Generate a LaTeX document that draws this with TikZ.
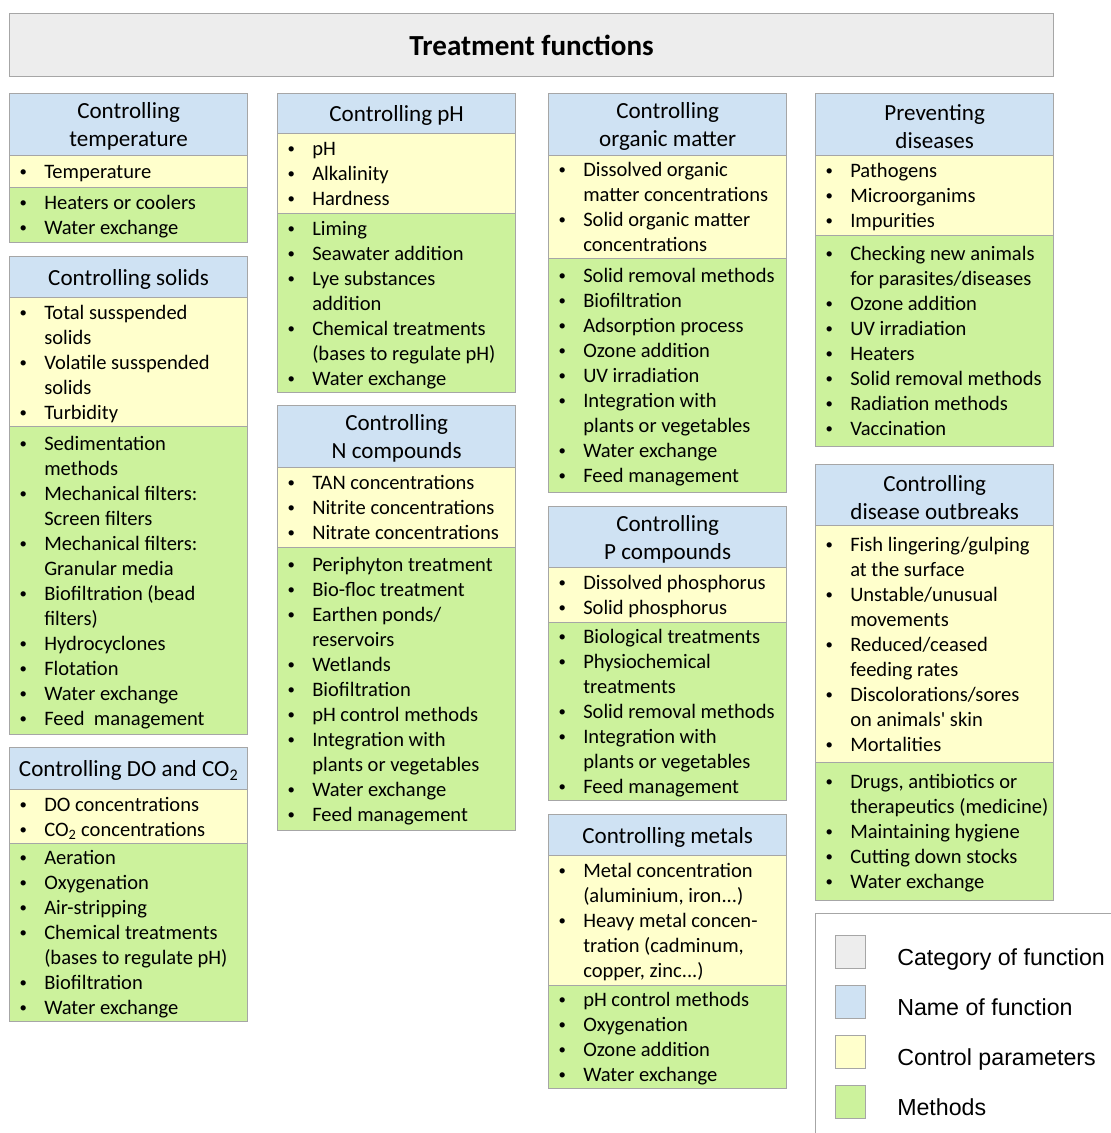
\documentclass[tikz,border=0pt]{standalone}
\usepackage{fontspec}
\setmainfont{Carlito}
\newfontfamily\legendfont{Liberation Sans}
\usetikzlibrary{calc}

\definecolor{edgegray}{HTML}{A6A6A6}
\definecolor{catgray}{HTML}{EDEDED}
\definecolor{headblue}{HTML}{CFE2F3}
\definecolor{paryellow}{HTML}{FFFFCC}
\definecolor{methgreen}{HTML}{CCF29C}

% fonts of the table cells
\newcommand\itemfont{\fontsize{15.4pt}{18.75pt}\selectfont}
\newcommand\headfont{\fontsize{17.3pt}{21pt}\selectfont}
% bullet item and continuation line
\newcommand\bu{\strut\makebox[19.5pt][l]{\hspace{1pt}\raisebox{0.09em}{\scalebox{0.72}{\textbullet}}}}
\newcommand\co{\strut\hspace*{19.5pt}}

\tikzset{
  x=0.75pt, y=-0.75pt,
  cell/.style={draw=edgegray, line width=1pt, anchor=north west,
    minimum width=178.5pt, inner sep=0pt},
  headcell/.style={cell, fill=headblue},
  parcell/.style={cell, fill=paryellow},
  methcell/.style={cell, fill=methgreen},
  headtext/.style={align=center, inner sep=0pt, font=\headfont},
  itemtext/.style={anchor=west, align=left, inner sep=0pt, font=\itemfont},
  legendkey/.style={draw=edgegray, line width=1pt, anchor=north west,
    minimum width=22.5pt, minimum height=24.75pt, inner sep=0pt},
  legendtext/.style={anchor=base west, inner sep=0pt,
    font=\legendfont\fontsize{17.4pt}{20pt}\selectfont},
}

% header cell: name, x, top, bottom, text
\newcommand\hcell[5]{%
  \pgfmathsetmacro\cellh{(#4-#3)*0.75}%
  \node[headcell, minimum height=\cellh pt] (#1) at (#2,#3) {};
  \node[headtext] (#1-text) at ([yshift=-1.5pt]#1.center) {#5};
}
% list cell: name, style, x, top, bottom, lines
\newcommand\lcell[6]{%
  \pgfmathsetmacro\cellh{(#5-#4)*0.75}%
  \node[#2, minimum height=\cellh pt] (#1) at (#3,#4) {};
  \node[itemtext] (#1-text) at ([xshift=6.75pt,yshift=-1.5pt]#1.west) {#6};
}

\begin{document}
\begin{tikzpicture}
\useasboundingbox (0,0) rectangle (1111,1133);

% category
\node[draw=edgegray, line width=1pt, fill=catgray, anchor=north west,
  minimum width=783pt, minimum height=47.25pt, inner sep=0pt,
  font=\bfseries\fontsize{21.8pt}{26pt}\selectfont] (title) at (9,13) {Treatment functions};

% ---------- column 1 ----------
\hcell{temp}{9}{93}{155}{Controlling\\temperature}
\lcell{temp-par}{parcell}{9}{155}{187}{\bu Temperature}
\lcell{temp-met}{methcell}{9}{187}{242}{\bu Heaters or coolers\\\bu Water exchange}

\hcell{solids}{9}{256}{297}{Controlling solids}
\lcell{solids-par}{parcell}{9}{297}{426}{\bu Total susspended\\\co solids\\\bu Volatile susspended\\\co solids\\\bu Turbidity}
\lcell{solids-met}{methcell}{9}{426}{734}{\bu Sedimentation\\\co methods\\\bu Mechanical filters:\\\co Screen filters\\\bu Mechanical filters:\\\co Granular media\\\bu Biofiltration (bead\\\co filters)\\\bu Hydrocyclones\\\bu Flotation\\\bu Water exchange\\\bu Feed\ \ management}

\hcell{oxy}{9}{747}{789}{Controlling DO and CO\textsubscript{2}}
\lcell{oxy-par}{parcell}{9}{789}{843}{\bu DO concentrations\\\bu CO\textsubscript{2} concentrations}
\lcell{oxy-met}{methcell}{9}{843}{1021}{\bu Aeration\\\bu Oxygenation\\\bu Air-stripping\\\bu Chemical treatments\\\co (bases to regulate pH)\\\bu Biofiltration\\\bu Water exchange}

% ---------- column 2 ----------
\hcell{ph}{277}{93}{133}{Controlling pH}
\lcell{ph-par}{parcell}{277}{133}{213}{\bu pH\\\bu Alkalinity\\\bu Hardness}
\lcell{ph-met}{methcell}{277}{213}{392}{\bu Liming\\\bu Seawater addition\\\bu Lye substances\\\co addition\\\bu Chemical treatments\\\co (bases to regulate pH)\\\bu Water exchange}

\hcell{nitro}{277}{405}{467}{Controlling\\N compounds}
\lcell{nitro-par}{parcell}{277}{467}{547}{\bu TAN concentrations\\\bu Nitrite concentrations\\\bu Nitrate concentrations}
\lcell{nitro-met}{methcell}{277}{547}{830}{\bu Periphyton treatment\\\bu Bio-floc treatment\\\bu Earthen ponds/\\\co reservoirs\\\bu Wetlands\\\bu Biofiltration\\\bu pH control methods\\\bu Integration with\\\co plants or vegetables\\\bu Water exchange\\\bu Feed management}

% ---------- column 3 ----------
\hcell{organic}{548}{93}{155}{Controlling\\organic matter}
\lcell{organic-par}{parcell}{548}{155}{258}{\bu Dissolved organic\\\co matter concentrations\\\bu Solid organic matter\\\co concentrations}
\lcell{organic-met}{methcell}{548}{258}{492}{\bu Solid removal methods\\\bu Biofiltration\\\bu Adsorption process\\\bu Ozone addition\\\bu UV irradiation\\\bu Integration with\\\co plants or vegetables\\\bu Water exchange\\\bu Feed management}

\hcell{phos}{548}{506}{567}{Controlling\\P compounds}
\lcell{phos-par}{parcell}{548}{567}{622}{\bu Dissolved phosphorus\\\bu Solid phosphorus}
\lcell{phos-met}{methcell}{548}{622}{800}{\bu Biological treatments\\\bu Physiochemical\\\co treatments\\\bu Solid removal methods\\\bu Integration with\\\co plants or vegetables\\\bu Feed management}

\hcell{metals}{548}{814}{855}{Controlling metals}
\lcell{metals-par}{parcell}{548}{855}{985}{\bu Metal concentration\\\co (aluminium, iron...)\\\bu Heavy metal concen-\\\co tration (cadminum,\\\co copper, zinc...)}
\lcell{metals-met}{methcell}{548}{985}{1088}{\bu pH control methods\\\bu Oxygenation\\\bu Ozone addition\\\bu Water exchange}

% ---------- column 4 ----------
\hcell{prevent}{815}{93}{155}{Preventing\\diseases}
\lcell{prevent-par}{parcell}{815}{155}{235}{\bu Pathogens\\\bu Microorganims\\\bu Impurities}
\lcell{prevent-met}{methcell}{815}{235}{446}{\bu Checking new animals\\\co for parasites/diseases\\\bu Ozone addition\\\bu UV irradiation\\\bu Heaters\\\bu Solid removal methods\\\bu Radiation methods\\\bu Vaccination}

\hcell{outbreak}{815}{464}{525}{Controlling\\disease outbreaks}
\lcell{outbreak-par}{parcell}{815}{525}{762}{\bu Fish lingering/gulping\\\co at the surface\\\bu Unstable/unusual\\\co movements\\\bu Reduced/ceased\\\co feeding rates\\\bu Discolorations/sores\\\co on animals\textquotesingle{} skin\\\bu Mortalities}
\lcell{outbreak-met}{methcell}{815}{762}{900}{\bu Drugs, antibiotics or\\\co therapeutics (medicine)\\\bu Maintaining hygiene\\\bu Cutting down stocks\\\bu Water exchange}

% ---------- legend ----------
\begin{scope}
  \clip (0,0) rectangle (1111,1133);
  \node[draw=edgegray, line width=1pt, fill=white, anchor=north west,
    minimum width=240pt, minimum height=180pt, inner sep=0pt] (legend) at (815,913) {};
\end{scope}
\node[legendkey, fill=catgray] (key-cat) at (835,935) {};
\node[legendkey, fill=headblue] (key-name) at (835,985) {};
\node[legendkey, fill=paryellow] (key-par) at (835,1035) {};
\node[legendkey, fill=methgreen] (key-met) at (835,1085) {};
\node[legendtext] (lab-cat) at (897,965) {Category of function};
\node[legendtext] (lab-name) at (897,1015) {Name of function};
\node[legendtext] (lab-par) at (897,1065) {Control parameters};
\node[legendtext] (lab-met) at (897,1115) {Methods};
\end{tikzpicture}
\end{document}
